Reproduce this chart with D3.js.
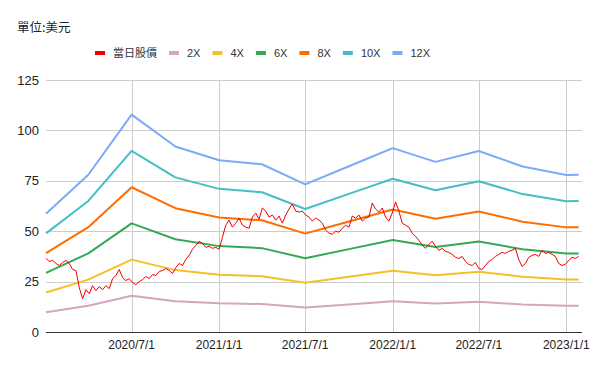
<!DOCTYPE html>
<html>
<head>
<meta charset="utf-8">
<script src="https://cdn.jsdelivr.net/npm/d3@7"></script>
<style>
  body { margin: 0; background: #fff; }
  svg { display: block; font-family: Arial, "Liberation Sans", sans-serif; }
</style>
</head>
<body>
<script>
let width = 600
let height = 371
let margin = { left: 46, right: 18, top: 80, bottom: 39 }

// quarterly anchor dates for the PE multiple bands
let bandDates = ['2020-01-03', '2020-04-01', '2020-07-01', '2020-10-01', '2021-01-01', '2021-04-01',
    '2021-07-01', '2021-10-01', '2022-01-01', '2022-04-01', '2022-07-01', '2022-10-01', '2023-01-01', '2023-01-27']
let pe2 = [9.8, 13.0, 18.0, 15.3, 14.2, 13.9, 12.2, 13.7, 15.2, 14.1, 15.0, 13.7, 13.0, 13.0]
let pe4 = [19.6, 26.0, 35.9, 30.7, 28.4, 27.7, 24.4, 27.4, 30.4, 28.1, 29.9, 27.4, 26.0, 26.0]
let pe6 = [29.3, 39.0, 53.9, 46.0, 42.6, 41.6, 36.6, 41.1, 45.6, 42.2, 44.9, 41.0, 38.9, 39.0]
let pe8 = [39.1, 52.0, 71.8, 61.4, 56.8, 55.4, 48.8, 54.8, 60.8, 56.2, 59.8, 54.7, 51.9, 52.0]
let pe10 = [48.9, 65.0, 89.8, 76.7, 71.0, 69.3, 61.0, 68.5, 76.0, 70.3, 74.8, 68.4, 64.9, 65.0]
let pe12 = [58.7, 78.0, 107.8, 92.0, 85.2, 83.2, 73.2, 82.2, 91.2, 84.4, 89.8, 82.1, 77.9, 78.0]

// weekly closing price, first week 2020-01-03
let priceStart = '2020-01-03'
let prices = [36.5, 35, 35.5, 34, 33, 34.5, 35.5, 34, 31, 30.5,
    22, 16.5, 21, 19, 23, 20.5, 22.5, 21, 23, 21.5,
    26.5, 28, 31, 27, 25.5, 26.5, 24.5, 23.5, 25, 26,
    27.5, 26.5, 28.5, 28, 30, 30.5, 31.5, 30.5, 29, 32,
    34, 33, 36, 38, 41, 43, 45, 44, 42, 42.5,
    41.5, 42, 41, 47, 53, 55.5, 52, 54, 56.5, 53,
    52, 51.5, 57, 59, 56, 61.5, 60, 57, 58, 55.5,
    57.5, 54, 58, 61, 63.5, 60, 59.5, 60, 58, 57,
    55, 56.5, 55.5, 54, 50.5, 49, 48.5, 50, 49.5, 51.5,
    53, 52, 57.5, 56.5, 58, 55, 56.5, 57, 64, 61,
    59.5, 61.5, 57, 55, 59, 64.5, 60, 54, 53, 52,
    49, 47.5, 45.5, 43, 41.5, 43.5, 45, 42.5, 40.5, 41.5,
    40, 39.5, 38.5, 37, 36.5, 37.5, 35, 33.5, 33, 34.5,
    31.5, 31, 33, 35, 36, 37.5, 38.5, 39.5, 39, 40,
    40.5, 41.5, 36, 32.5, 34, 37, 38, 38.5, 37.5, 40.5,
    39, 39.5, 38.5, 37.5, 34, 33, 33.5, 35.5, 37, 36.5, 37.5]

let seriesNames = ['當日股價', '2X', '4X', '6X', '8X', '10X', '12X']
let seriesColors = ['#f00000', '#d5a6bd', '#f6c026', '#34a853', '#ff6d01', '#46bdc6', '#7baaf7']
let yTicks = [0, 25, 50, 75, 100, 125]
let xTicks = ['2020-07-01', '2021-01-01', '2021-07-01', '2022-01-01', '2022-07-01', '2023-01-01']

let parse = d3.timeParse('%Y-%m-%d')
let fmt = d3.timeFormat('%Y/%-m/%-d')

let x = d3.scaleTime()
    .domain([parse('2020-01-03'), parse('2023-02-03')])
    .range([margin.left, width - margin.right])
let y = d3.scaleLinear()
    .domain([0, 125])
    .range([height - margin.bottom, margin.top])

let svg = d3.select('body').append('svg')
    .attr('width', width)
    .attr('height', height)

svg.append('text')
    .attr('x', 17)
    .attr('y', 32)
    .attr('font-size', 12.5)
    .attr('fill', '#222')
    .attr('font-family', '"Noto Sans CJK TC", sans-serif')
    .text('單位:美元')

// grid
svg.append('g').selectAll('line')
    .data(yTicks.filter(d => d > 0))
    .enter().append('line')
    .attr('x1', margin.left).attr('x2', width - margin.right)
    .attr('y1', d => Math.round(y(d)) + .5).attr('y2', d => Math.round(y(d)) + .5)
    .attr('stroke', '#ccc')
svg.append('g').selectAll('line')
    .data(xTicks)
    .enter().append('line')
    .attr('x1', d => Math.round(x(parse(d))) + .5).attr('x2', d => Math.round(x(parse(d))) + .5)
    .attr('y1', margin.top).attr('y2', height - margin.bottom)
    .attr('stroke', '#ccc')

// axes labels
svg.append('g').selectAll('text')
    .data(yTicks)
    .enter().append('text')
    .attr('x', 39)
    .attr('y', d => y(d))
    .attr('dy', '0.35em')
    .attr('text-anchor', 'end')
    .attr('font-size', 13)
    .attr('fill', '#222')
    .text(d => d)
svg.append('g').selectAll('text')
    .data(xTicks)
    .enter().append('text')
    .attr('x', d => x(parse(d)))
    .attr('y', 349)
    .attr('text-anchor', 'middle')
    .attr('font-size', 12)
    .attr('fill', '#222')
    .text(d => fmt(parse(d)))

// bands
let bands = [pe2, pe4, pe6, pe8, pe10, pe12]
let line = d3.line()
    .x(d => x(d.date))
    .y(d => y(d.value))

bands.forEach((vals, k) => {
    let pts = vals.map((v, i) => ({ date: parse(bandDates[i]), value: v }))
    svg.append('path')
        .datum(pts)
        .attr('d', line)
        .attr('fill', 'none')
        .attr('stroke', seriesColors[k + 1])
        .attr('stroke-width', 2)
        .attr('stroke-linejoin', 'round')
})

let start = parse(priceStart)
let pricePts = prices.map((v, i) => ({ date: d3.timeDay.offset(start, i * 7), value: v }))
svg.append('path')
    .datum(pricePts)
    .attr('d', line)
    .attr('fill', 'none')
    .attr('stroke', seriesColors[0])
    .attr('stroke-width', 1)

// baseline
svg.append('line')
    .attr('x1', margin.left).attr('x2', width - margin.right)
    .attr('y1', Math.round(y(0)) + .5).attr('y2', Math.round(y(0)) + .5)
    .attr('stroke', '#333')

// legend
let legend = svg.append('g')
let lx = 95
seriesNames.forEach((name, k) => {
    legend.append('rect')
        .attr('x', lx).attr('y', 51)
        .attr('width', 10).attr('height', 4)
        .attr('fill', seriesColors[k])
    let t = legend.append('text')
        .attr('x', lx + 18)
        .attr('y', 57)
        .attr('font-size', 11)
        .attr('fill', '#333')
        .attr('font-family', k == 0 ? '"Noto Sans CJK TC", sans-serif' : 'Arial, "Liberation Sans", sans-serif')
        .text(name)
    lx += 18 + t.node().getComputedTextLength() + 12
})
</script>
</body>
</html>
